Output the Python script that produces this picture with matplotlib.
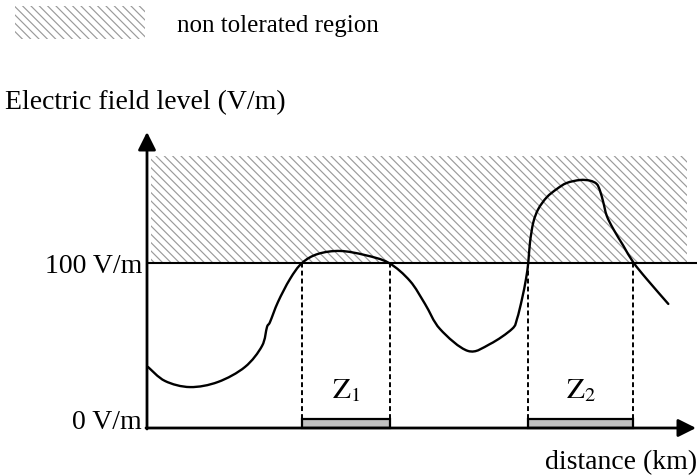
import matplotlib
matplotlib.use("Agg")
import matplotlib.pyplot as plt
from matplotlib.patches import Rectangle, PathPatch
from matplotlib.path import Path

plt.rcParams['font.family'] = ['Liberation Serif', 'DejaVu Serif']
plt.rcParams['mathtext.fontset'] = 'stix'
plt.rcParams['hatch.linewidth'] = 0.85

# ---- data (distance in km, field in V/m; schematic units) ----
distance = [0.1, 1.8, 4.3, 7.1, 9.8, 11.5, 12.0, 12.3, 13.1, 14.3, 15.5, 17.1,
            19.3, 21.8, 24.2, 26.3, 27.8, 29.3, 32.1, 34.3, 36.5, 37.0, 37.5,
            37.9, 38.13, 38.3, 38.63, 39.13, 39.97, 40.97, 41.97, 43.3, 44.3,
            44.97, 45.3, 45.63, 45.97, 46.63, 47.63, 48.63, 49.97, 52.13]
field = [37.0, 28.5, 24.8, 27.9, 37.0, 49.7, 61.2, 64.2, 76.4, 90.3, 100.0, 105.5,
         107.3, 104.8, 100.0, 89.1, 75.2, 60.0, 46.7, 50.9, 60.0, 66.1, 78.2,
         90.3, 100.4, 112.5, 124.6, 132.7, 139.8, 144.8, 148.5, 150.3, 149.9,
         147.9, 143.8, 136.8, 128.7, 120.6, 110.5, 100.4, 90.3, 75.2]
threshold = 100.0
zones = [(15.5, 24.3), (38.1, 48.6)]
zone_labels = [r'$\mathrm{Z}_1$', r'$\mathrm{Z}_2$']
y_tick_labels = ['0 V/m', '100 V/m']
y_tick_values = [0.0, 100.0]

HATCH_GREY = '#9a9a9a'

fig = plt.figure(figsize=(6.97, 4.77), dpi=100)
ax = fig.add_axes([0, 0, 1, 1])
ax.set_xlim(-14.7, 55.0)
ax.set_ylim(-29.09, 260.0)
ax.axis('off')

# non tolerated region (hatched)
ax.add_patch(Rectangle((0.4, threshold), 54.0 - 0.4, 164.8 - threshold,
                       facecolor='none', edgecolor=HATCH_GREY, hatch='\\\\\\\\', lw=0))
# legend swatch
ax.add_patch(Rectangle((-13.2, 235.8), 13.0, 20.0,
                       facecolor='none', edgecolor=HATCH_GREY, hatch='\\\\\\\\', lw=0))
ax.text(3.0, 240.5, 'non tolerated region', fontsize=18, ha='left', va='baseline')

# threshold line
ax.plot([0, 55.0], [threshold, threshold], color='black', lw=1.5, solid_capstyle='butt')

# curve: smooth path through the read points (Catmull-Rom -> cubic Bezier)
pts = list(zip(distance, field))
verts = [pts[0]]
codes = [Path.MOVETO]
n = len(pts)
for i in range(n - 1):
    p0 = pts[i - 1] if i > 0 else pts[i]
    p1 = pts[i]
    p2 = pts[i + 1]
    p3 = pts[i + 2] if i + 2 < n else pts[i + 1]
    c1 = (p1[0] + (p2[0] - p0[0]) / 6.0, p1[1] + (p2[1] - p0[1]) / 6.0)
    c2 = (p2[0] - (p3[0] - p1[0]) / 6.0, p2[1] - (p3[1] - p1[1]) / 6.0)
    verts += [c1, c2, p2]
    codes += [Path.CURVE4] * 3
ax.add_patch(PathPatch(Path(verts, codes), facecolor='none', edgecolor='black',
                       lw=1.7, joinstyle='round', capstyle='round'))

# zones
for (x0, x1), lab in zip(zones, zone_labels):
    for xe in (x0, x1):
        ax.plot([xe, xe], [5.5, threshold], color='black', lw=1.4, ls=(0, (2.5, 1.6)))
    ax.add_patch(Rectangle((x0, 0), x1 - x0, 5.5, facecolor='#c0c0c0',
                           edgecolor='black', lw=1.6, zorder=3))
    ax.text((x0 + x1) / 2, 18.8, lab, fontsize=21, ha='center', va='baseline')

# axes with arrows
arrow = dict(arrowstyle='-|>,head_length=0.6,head_width=0.3', lw=2,
             color='black', mutation_scale=18, shrinkA=0, shrinkB=0)
ax.annotate('', xy=(0, 179.4), xytext=(0, -0.6), arrowprops=arrow)
ax.annotate('', xy=(54.9, 0), xytext=(-0.1, 0), arrowprops=arrow)

# labels
ax.text(-14.2, 193.9, 'Electric field level (V/m)', fontsize=20, ha='left', va='baseline')
for v, t in zip(y_tick_values, y_tick_labels):
    ax.text(-0.5, v - 5.5 if v > 0 else 0.0, t, fontsize=20, ha='right', va='baseline')
ax.text(55.0, -24.2, 'distance (km)', fontsize=20, ha='right', va='baseline')

fig.savefig('out.png', dpi=100)
